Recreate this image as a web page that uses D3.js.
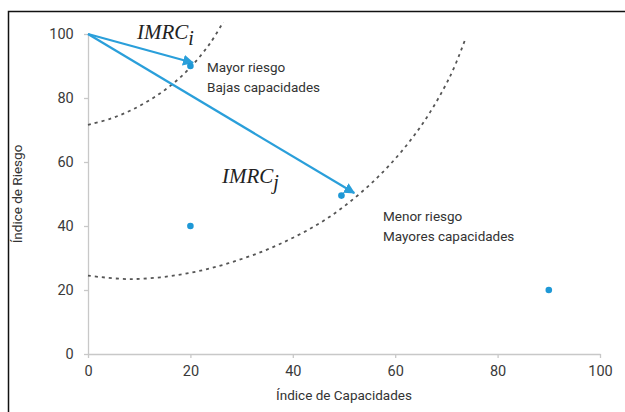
<!DOCTYPE html>
<html>
<head>
<meta charset="utf-8">
<script src="https://cdn.jsdelivr.net/npm/d3@7"></script>
<style>
  body { margin: 0; background: #fff; }
  text { font-family: "Roboto", "Liberation Sans", sans-serif; fill: #333; }
  .tick text { font-size: 14.5px; fill: #3a3a3a; }
  .axis path, .axis line { stroke: #c8c8c8; stroke-width: 1.3; }
</style>
</head>
<body>
<div id="chart"></div>
<script>
// data
var points = [[20, 90], [20, 40], [49.5, 49.5], [90, 20]];
var arrows = [
  { from: [0, 100], to: [20.5, 91] },
  { from: [0, 100], to: [52, 50.3] }
];
var innerCurve = [[0, 71.6], [4.3, 73.5], [8.2, 76.0], [12.1, 79.4], [16.0, 83.7],
  [19.9, 89.4], [23.8, 97.0], [26.4, 103.7]];
var outerCurve = [[0, 24.5], [8.2, 23.4], [18, 24.8], [27.3, 28.3], [37.1, 34.1],
  [47.3, 43.0], [57.0, 55.9], [64.8, 70.7], [70.7, 86.7], [73.6, 98.0]];
var xTicks = [0, 20, 40, 60, 80, 100];
var yTicks = [0, 20, 40, 60, 80, 100];

var width = 625, height = 412,
  margin = { top: 34, right: 25, bottom: 58, left: 88 };

var svg = d3.select('#chart').append('svg')
  .attr('width', width)
  .attr('height', height);

// frame
svg.append('rect')
  .attr('x', 8.5).attr('y', 11.5)
  .attr('width', 640).attr('height', 420)
  .attr('fill', 'none')
  .attr('stroke', '#111')
  .attr('stroke-width', 1.5);

var x = d3.scaleLinear().domain([0, 100]).range([margin.left, width - margin.right]);
var y = d3.scaleLinear().domain([0, 100]).range([height - margin.bottom, margin.top]);

svg.append('g')
  .attr('class', 'axis')
  .attr('transform', 'translate(0,' + y(0) + ')')
  .call(d3.axisBottom(x).tickValues(xTicks).tickSize(4).tickSizeOuter(0))
  .selectAll('text').attr('dy', '1.05em');

svg.append('g')
  .attr('class', 'axis')
  .attr('transform', 'translate(' + x(0) + ',0)')
  .call(d3.axisLeft(y).tickValues(yTicks).tickSize(4).tickSizeOuter(0))
  .selectAll('text').attr('dx', '-0.5em');

svg.append('text')
  .attr('x', (x(0) + x(100)) / 2)
  .attr('y', 400)
  .attr('text-anchor', 'middle')
  .style('font-size', '13.5px')
  .text('Índice de Capacidades');

svg.append('text')
  .attr('transform', 'translate(22,' + (y(0) + y(100)) / 2 + ') rotate(-90)')
  .attr('text-anchor', 'middle')
  .style('font-size', '13.5px')
  .text('Índice de Riesgo');

// dashed boundaries
var line = d3.line()
  .x(function (d) { return x(d[0]); })
  .y(function (d) { return y(d[1]); })
  .curve(d3.curveCatmullRom);

[innerCurve, outerCurve].forEach(function (c) {
  svg.append('path')
    .datum(c)
    .attr('d', line)
    .attr('fill', 'none')
    .attr('stroke', '#555')
    .attr('stroke-width', 1.8)
    .attr('stroke-dasharray', '3,4');
});

svg.append('defs').append('marker')
  .attr('id', 'head')
  .attr('viewBox', '0 0 10 10')
  .attr('refX', 9).attr('refY', 5)
  .attr('markerWidth', 5).attr('markerHeight', 5)
  .attr('markerUnits', 'strokeWidth')
  .attr('orient', 'auto')
  .append('path')
  .attr('d', 'M0,0 L10,5 L0,10 Z')
  .attr('fill', '#2a9fda');

svg.selectAll('.arrow')
  .data(arrows)
  .enter()
  .append('line')
  .attr('class', 'arrow')
  .attr('x1', function (d) { return x(d.from[0]); })
  .attr('y1', function (d) { return y(d.from[1]); })
  .attr('x2', function (d) { return x(d.to[0]); })
  .attr('y2', function (d) { return y(d.to[1]); })
  .attr('stroke', '#2a9fda')
  .attr('stroke-width', 2.2)
  .attr('marker-end', 'url(#head)');

svg.selectAll('.pt')
  .data(points)
  .enter()
  .append('circle')
  .attr('class', 'pt')
  .attr('cx', function (d) { return x(d[0]); })
  .attr('cy', function (d) { return y(d[1]); })
  .attr('r', 3.3)
  .attr('fill', '#1e98d6');

// labels
function imrc(px, py, sub) {
  var t = svg.append('text')
    .attr('x', px).attr('y', py)
    .style('font-family', '"Liberation Serif", "DejaVu Serif", serif')
    .style('font-style', 'italic')
    .style('font-size', '21px')
    .style('fill', '#222');
  t.append('tspan').text('IMRC');
  t.append('tspan').attr('dy', 6).style('font-size', '20px').text(sub);
}
imrc(137, 39, 'i');
imrc(222, 183, 'j');

function note(px, py, lines) {
  lines.forEach(function (l, i) {
    svg.append('text')
      .attr('x', px).attr('y', py + i * 20)
      .style('font-size', '13.5px')
      .text(l);
  });
}
note(207, 72, ['Mayor riesgo', 'Bajas capacidades']);
note(383, 221, ['Menor riesgo', 'Mayores capacidades']);
</script>
</body>
</html>
